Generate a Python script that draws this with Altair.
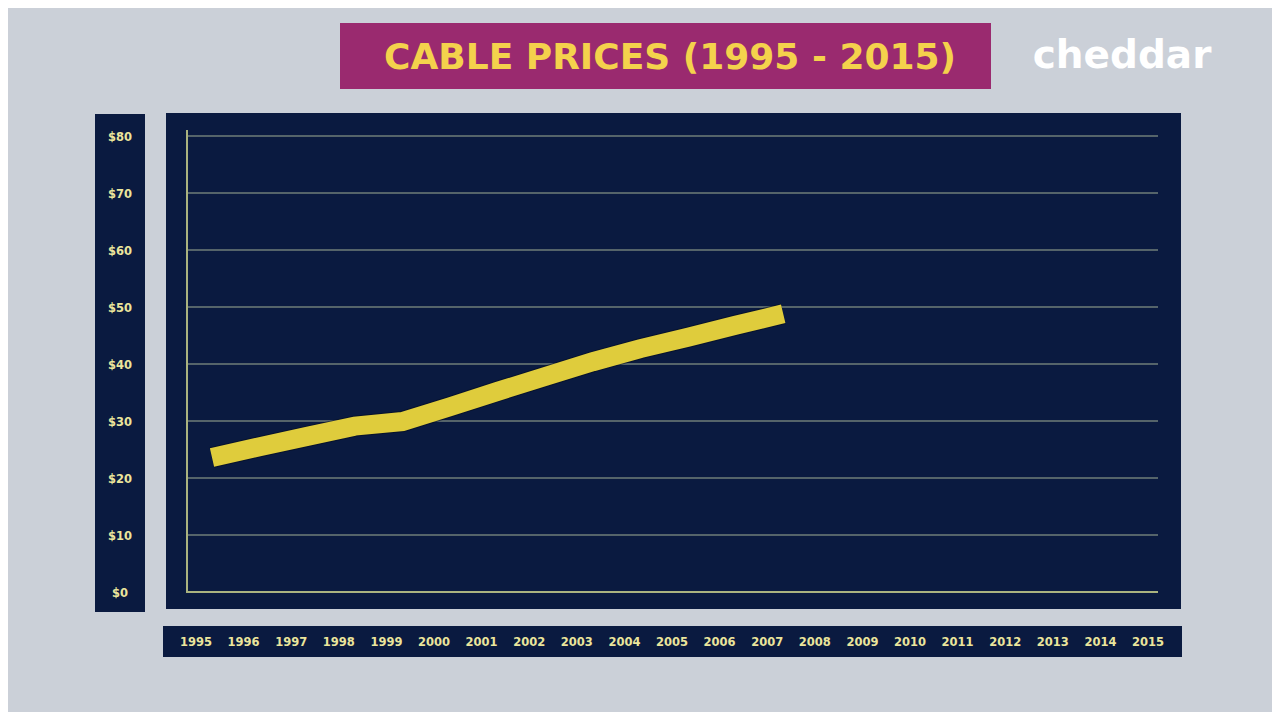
import altair as alt
import pandas as pd

# ---- data ----
years = [1995, 1996, 1997, 1998, 1999, 2000, 2001, 2002, 2003, 2004, 2005, 2006, 2007]
prices = [23.6, 25.5, 27.3, 29.1, 29.9, 32.5, 35.2, 37.8, 40.4, 42.7, 44.7, 46.8, 48.8]
axis_years = list(range(1995, 2016))
y_ticks = [0, 10, 20, 30, 40, 50, 60, 70, 80]
y_tick_labels = ["$" + str(v) for v in y_ticks]
title_text = "CABLE PRICES (1995 - 2015)"
logo_text = "cheddar"

BG = "#cbd0d8"
NAVY = "#0a1a40"
YELLOW = "#dfcc3c"
LABEL = "#ebe59c"

line_df = pd.DataFrame({"year": years, "price": prices})
xlab_df = pd.DataFrame({"year": axis_years, "label": [str(y) for y in axis_years]})
ylab_df = pd.DataFrame({"v": y_ticks, "label": y_tick_labels})
grid_df = pd.DataFrame({"v": y_ticks[1:]})
one = pd.DataFrame({"a": [0]})

xs = alt.Scale(domain=[1995, 2015], range=[204, 1156])
ys = alt.Scale(domain=[0, 80], range=[584, 128])

def panel(x, x2, y, y2, color):
    return alt.Chart(one).mark_rect(color=color).encode(
        x=alt.value(x), x2=alt.value(x2), y=alt.value(y), y2=alt.value(y2)
    )

panels = [
    panel(87, 137, 106, 604, NAVY),
    panel(158, 1173, 105, 601, NAVY),
    panel(155, 1174, 618, 649, NAVY),
    panel(332, 983, 15, 81, "#9a2a6f"),
]

grid = alt.Chart(grid_df).mark_rule(color="#6f7e78", strokeWidth=1.3).encode(
    y=alt.Y("v:Q", scale=ys, axis=None),
    x=alt.value(179), x2=alt.value(1150),
)

vaxis = alt.Chart(one).mark_rule(color="#aab37f", strokeWidth=2).encode(
    x=alt.value(179), y=alt.value(122), y2=alt.value(585)
)
haxis = alt.Chart(pd.DataFrame({"v": [0]})).mark_rule(color="#aab37f", strokeWidth=2).encode(
    y=alt.Y("v:Q", scale=ys, axis=None),
    x=alt.value(178), x2=alt.value(1150),
)

shadow = alt.Chart(line_df).mark_line(
    color="#050d20", strokeWidth=21, strokeCap="butt", strokeJoin="miter", opacity=0.6
).encode(
    x=alt.X("year:Q", scale=xs, axis=None),
    y=alt.Y("price:Q", scale=ys, axis=None),
)

line = alt.Chart(line_df).mark_line(
    color=YELLOW, strokeWidth=19, strokeCap="butt", strokeJoin="miter"
).encode(
    x=alt.X("year:Q", scale=xs, axis=None),
    y=alt.Y("price:Q", scale=ys, axis=None),
)

xlabels = alt.Chart(xlab_df).mark_text(
    color=LABEL, font="DejaVu Sans", fontWeight="bold", fontSize=11.5,
    align="center", baseline="middle", dx=-16
).encode(
    x=alt.X("year:Q", scale=xs, axis=None),
    y=alt.value(635),
    text="label:N",
)

ylabels = alt.Chart(ylab_df).mark_text(
    color=LABEL, font="DejaVu Sans", fontWeight="bold", fontSize=11.5,
    align="center", baseline="middle", dy=2
).encode(
    y=alt.Y("v:Q", scale=ys, axis=None),
    x=alt.value(112),
    text="label:N",
)

title = alt.Chart(one).mark_text(
    text=title_text, color="#f4d24c", font="DejaVu Sans", fontWeight="bold",
    fontSize=36, align="center", baseline="middle"
).encode(x=alt.value(662), y=alt.value(50))

logo = alt.Chart(one).mark_text(
    text=logo_text, color="#ffffff", font="DejaVu Sans", fontWeight="bold",
    fontSize=39, align="center", baseline="alphabetic"
).encode(x=alt.value(1114), y=alt.value(60))

chart = alt.layer(
    *panels, grid, vaxis, haxis, shadow, line, xlabels, ylabels, title, logo
).properties(
    width=1264, height=704,
    autosize=alt.AutoSizeParams(type="none"),
    padding=0,
    background=BG,
).configure_view(stroke=None)

chart.save("out.html", embed_options={"renderer": "svg", "actions": False})
